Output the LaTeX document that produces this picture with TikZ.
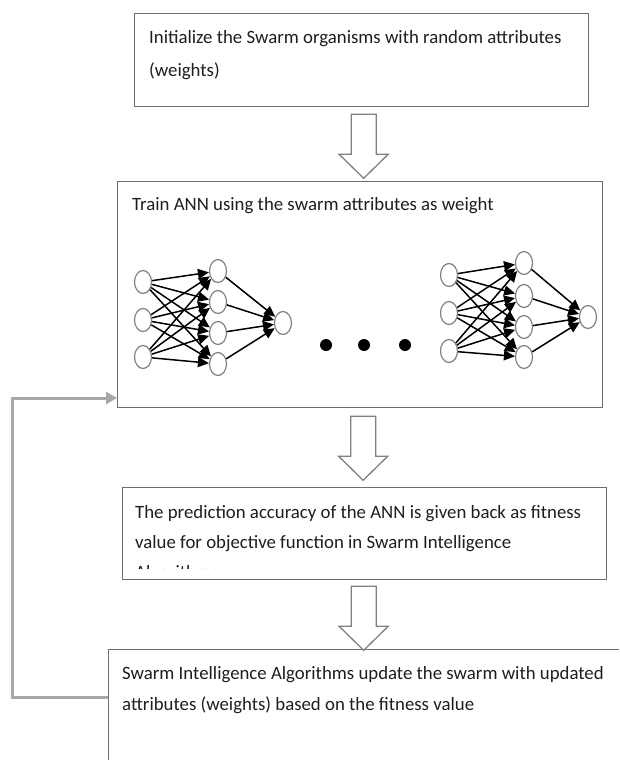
\documentclass[tikz,border=0pt]{standalone}
\usepackage{fontspec}
\setmainfont{Carlito}
\usetikzlibrary{arrows.meta,positioning,shapes.geometric,calc}
\definecolor{ink}{HTML}{1E1E1E}
\definecolor{frame}{HTML}{6E6E6E}
\definecolor{ring}{HTML}{808080}
\definecolor{loopc}{HTML}{A8A8A8}
\tikzset{
  every picture/.style={line join=miter},
  stepbox/.style={draw=frame, line width=1.3pt, fill=white, inner sep=0pt, anchor=north west},
  txt/.style={font=\fontsize{18.8}{#1}\selectfont, text=ink, align=left, anchor=base west, inner sep=0pt},
  txt/.default=30,
  neuron/.style={ellipse, draw=ring, fill=white, line width=1.2pt, minimum width=17pt,
    minimum height=23pt, inner sep=0pt},
  nnarr/.style={-{Triangle[length=11pt,width=10pt]}, draw=black, line width=1.5pt},
  bigdot/.style={circle, fill=black, inner sep=0pt, minimum size=12pt},
  feedback/.style={-{Triangle[length=11pt,width=12pt]}, draw=loopc, line width=3pt},
  dnarrow/.pic={\draw[draw=ring, fill=white, line width=1.3pt]
    (-12.5,0) -- (12.5,0) -- (12.5,-40) -- (24.5,-40) -- (0,-64) -- (-24.5,-40) -- (-12.5,-40) -- cycle;},
}
\begin{document}
\begin{tikzpicture}[x=1pt, y=1pt]
  \clip (0,0) rectangle (619,-760);
  % the four steps
  \node[stepbox, minimum width=454pt, minimum height=93pt] (init) at (134,-13) {};
  \node[txt=33] (tinit) at ($(init.north west)+(15,-64)$) {Initialize the Swarm organisms with random attributes\\(weights)};
  \node[stepbox, minimum width=485pt, minimum height=226pt] (train) at (117,-181) {};
  \node[txt] (ttrain) at ($(train.north west)+(15,-29)$) {Train ANN using the swarm attributes as weight};
  \node[stepbox, minimum width=484pt, minimum height=92pt] (fit) at (122,-487) {};
  \begin{scope}
    \clip (fit.north west) rectangle ($(fit.south east)+(0,12)$);
    \node[txt] (tfit) at ($(fit.north west)+(13,-91)$) {The prediction accuracy of the ANN is given back as fitness\\value for objective function in Swarm Intelligence\\Algorithms};
  \end{scope}
  \node[stepbox, minimum width=540pt, minimum height=140pt] (upd) at (108,-649) {};
  \node[txt=31] (tupd) at ($(upd.north west)+(14,-61)$) {Swarm Intelligence Algorithms update the swarm with updated\\attributes (weights) based on the fitness value};
  % block arrows between steps
  \pic at ($(init.south)+(2,-7)$) {dnarrow};
  \pic at ($(train.south)+(3,-8)$) {dnarrow};
  \pic at ($(fit.south)+(-1,-6)$) {dnarrow};
  % feedback loop
  \coordinate (fbl) at (12,-697);
  \coordinate (fbu) at (12,-398);
  \draw[feedback] (upd.west |- fbl) -- (fbl) -- (fbu) -- (train.west |- fbu);
  % left network
  \foreach \i/\y in {1/-282, 2/-320, 3/-357} \node[neuron] (a\i) at (143,\y) {};
  \foreach \j/\y in {1/-271, 2/-302, 3/-333, 4/-364} \node[neuron] (b\j) at (218,\y) {};
  \node[neuron] (c) at (283,-323) {};
  \foreach \i in {1,2,3} \foreach \j in {1,2,3,4} \draw[nnarr] (a\i) -- (b\j);
  \foreach \j in {1,2,3,4} \draw[nnarr] (b\j) -- (c);
  % dots
  \node[bigdot] (d1) at (326,-345) {};
  \node[bigdot] (d2) at (364,-345) {};
  \node[bigdot] (d3) at (405,-345) {};
  % right network
  \foreach \i/\y in {1/-275, 2/-313, 3/-351} \node[neuron] (p\i) at (449,\y) {};
  \foreach \j/\y in {1/-263, 2/-296, 3/-327, 4/-357} \node[neuron] (q\j) at (524,\y) {};
  \node[neuron] (r) at (588,-317) {};
  \foreach \i in {1,2,3} \foreach \j in {1,2,3,4} \draw[nnarr] (p\i) -- (q\j);
  \foreach \j in {1,2,3,4} \draw[nnarr] (q\j) -- (r);
\end{tikzpicture}
\end{document}
